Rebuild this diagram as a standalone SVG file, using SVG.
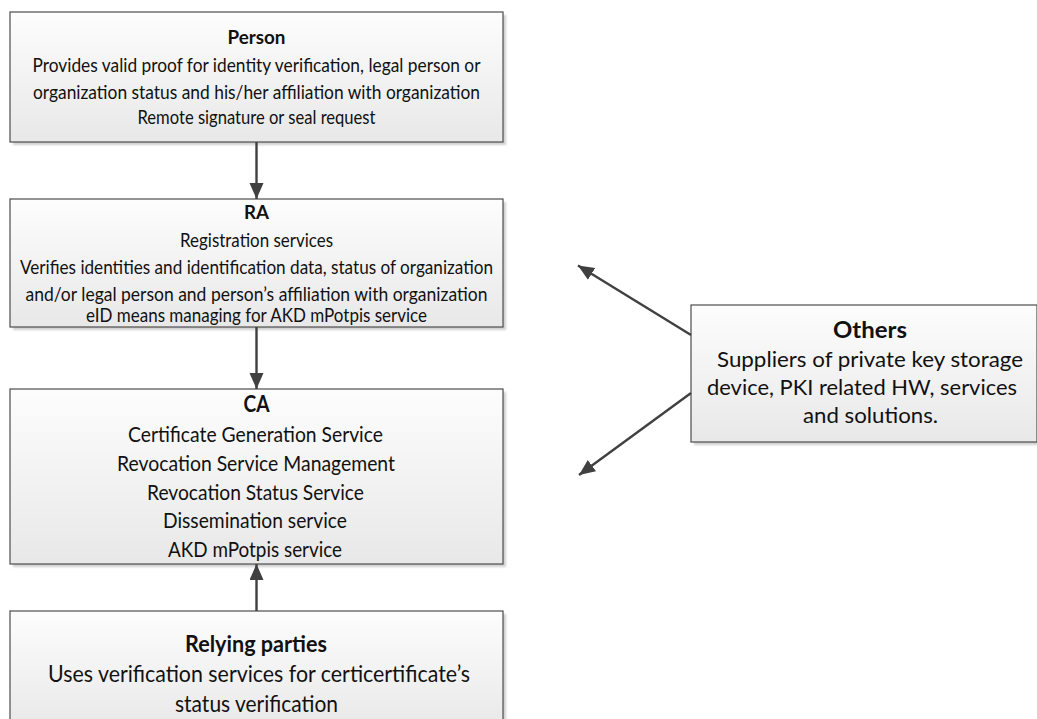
<svg xmlns="http://www.w3.org/2000/svg" width="1037" height="719" viewBox="0 0 1037 719">
<style>
.box{fill:url(#g);stroke:#4d4d4d;stroke-width:1.2}
.sh{fill:#cfcfcf;filter:url(#blur)}
text{font-family:Lato,"Liberation Sans",sans-serif;fill:#111;text-anchor:middle}
.t{font-weight:bold}
.s17{font-size:19px}
.s20{font-size:22px}
.s21{font-size:23.5px}
.s22{font-size:22px}
.c{stroke:#404040;stroke-width:2.4;fill:none;marker-end:url(#ah)}
</style>
<defs>
<linearGradient id="g" x1="0" y1="0" x2="0" y2="1">
<stop offset="0" stop-color="#fdfdfd"/>
<stop offset="1" stop-color="#e8e8e8"/>
</linearGradient>
<filter id="blur" x="-5%" y="-5%" width="110%" height="110%"><feGaussianBlur stdDeviation="1"/></filter>
<marker id="ah" markerUnits="userSpaceOnUse" markerWidth="18" markerHeight="16" refX="16" refY="7" orient="auto">
<path d="M0,0 L16,7 L0,14 Z" fill="#404040"/>
</marker>
</defs>

<g id="person">
<rect class="sh" x="13" y="15" width="493" height="130"/>
<rect class="box" x="10" y="12" width="493" height="130"/>
<text class="t s17" x="256.5" y="44" textLength="58" lengthAdjust="spacingAndGlyphs">Person</text>
<text class="s17" x="256.5" y="72" textLength="448" lengthAdjust="spacingAndGlyphs">Provides valid proof for identity verification, legal person or</text>
<text class="s17" x="256.5" y="98.5" textLength="447" lengthAdjust="spacingAndGlyphs">organization status and his/her affiliation with organization</text>
<text class="s17" x="256.5" y="123.5" textLength="238" lengthAdjust="spacingAndGlyphs">Remote signature or seal request</text>
</g>

<g id="ra">
<rect class="sh" x="13" y="202" width="493" height="128"/>
<rect class="box" x="10" y="199" width="493" height="128"/>
<text class="t s17" x="256.5" y="218.5" textLength="25" lengthAdjust="spacingAndGlyphs">RA</text>
<text class="s17" x="256.5" y="246.5" textLength="153" lengthAdjust="spacingAndGlyphs">Registration services</text>
<text class="s17" x="256.5" y="274" textLength="473" lengthAdjust="spacingAndGlyphs">Verifies identities and identification data, status of organization</text>
<text class="s17" x="256.5" y="300.5" textLength="462" lengthAdjust="spacingAndGlyphs">and/or legal person and person’s affiliation with organization</text>
<text class="s17" x="256.5" y="322" textLength="341" lengthAdjust="spacingAndGlyphs">eID means managing for AKD mPotpis service</text>
</g>

<g id="ca">
<rect class="sh" x="13" y="392" width="493" height="175"/>
<rect class="box" x="10" y="389" width="493" height="175"/>
<text class="t s20" x="256.5" y="411.5" textLength="26" lengthAdjust="spacingAndGlyphs">CA</text>
<text class="s20" x="255.5" y="441.5" textLength="255" lengthAdjust="spacingAndGlyphs">Certificate Generation Service</text>
<text class="s20" x="256" y="470.5" textLength="278" lengthAdjust="spacingAndGlyphs">Revocation Service Management</text>
<text class="s20" x="255.5" y="499.5" textLength="217" lengthAdjust="spacingAndGlyphs">Revocation Status Service</text>
<text class="s20" x="255" y="528" textLength="184" lengthAdjust="spacingAndGlyphs">Dissemination service</text>
<text class="s20" x="255" y="556.5" textLength="174" lengthAdjust="spacingAndGlyphs">AKD mPotpis service</text>
</g>

<g id="relying">
<rect class="sh" x="13" y="614" width="493" height="120"/>
<rect class="box" x="10" y="611" width="493" height="120"/>
<text class="t s21" x="256" y="651.5" textLength="142" lengthAdjust="spacingAndGlyphs">Relying parties</text>
<text class="s21" x="259" y="682" textLength="422" lengthAdjust="spacingAndGlyphs">Uses verification services for certicertificate’s</text>
<text class="s21" x="256.5" y="712" textLength="163" lengthAdjust="spacingAndGlyphs">status verification</text>
</g>

<g id="others">
<rect class="sh" x="694" y="308" width="346" height="137"/>
<rect class="box" x="691" y="305" width="346" height="137"/>
<text class="t s22" x="870" y="338" textLength="74" lengthAdjust="spacingAndGlyphs">Others</text>
<text class="s22" x="870" y="367" textLength="306" lengthAdjust="spacingAndGlyphs">Suppliers of private key storage</text>
<text class="s22" x="862" y="395" textLength="310" lengthAdjust="spacingAndGlyphs">device, PKI related HW, services</text>
<text class="s22" x="870.5" y="423" textLength="135" lengthAdjust="spacingAndGlyphs">and solutions.</text>
</g>

<g id="connectors">
<line class="c" x1="256.5" y1="142" x2="256.5" y2="199"/>
<line class="c" x1="256.5" y1="327" x2="256.5" y2="389"/>
<line class="c" x1="256.5" y1="611" x2="256.5" y2="564"/>
<line class="c" x1="691" y1="335" x2="578" y2="265.5"/>
<line class="c" x1="691" y1="393" x2="579" y2="475"/>
</g>
</svg>
